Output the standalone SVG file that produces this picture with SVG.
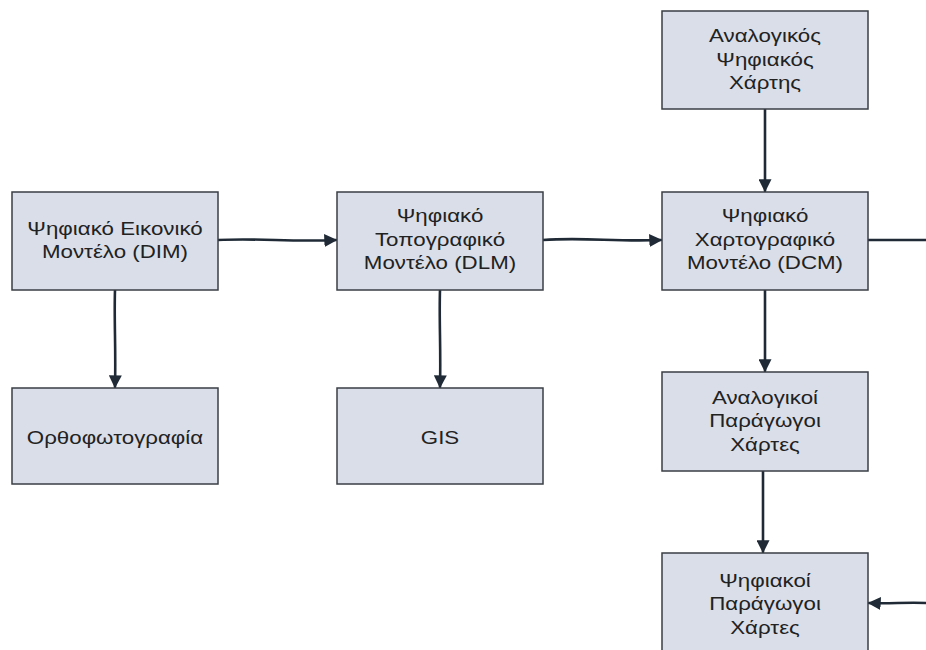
<svg xmlns="http://www.w3.org/2000/svg" width="926" height="650" viewBox="0 0 926 650">
  <style>
    .box rect { fill: #d9dee9; stroke: #3a3f46; stroke-width: 1.5; }
    .box text { font-family: "Liberation Sans", Arial, sans-serif; font-size: 18px; fill: #222; text-anchor: middle; }
    .edge { fill: none; stroke: #1f2a36; stroke-width: 2.6; stroke-linecap: round; }
  </style>
  <defs>
    <marker id="arrow" viewBox="0 0 10 10" refX="9" refY="5" markerWidth="5" markerHeight="5" orient="auto" markerUnits="strokeWidth">
      <path d="M0,0 L10,5 L0,10 z" fill="#1f2a36"/>
    </marker>
  </defs>
  <rect width="926" height="650" fill="#ffffff"/>

  <g id="connectors">
    <path class="edge" d="M218,240 C260,238 290,242 336,240" marker-end="url(#arrow)"/>
    <path class="edge" d="M543,240 C585,237 615,242 661,240" marker-end="url(#arrow)"/>
    <path class="edge" d="M868,240 L926,240"/>
    <path class="edge" d="M765,109 L765,191" marker-end="url(#arrow)"/>
    <path class="edge" d="M765,290 L765,371" marker-end="url(#arrow)"/>
    <path class="edge" d="M763,471 L763,552" marker-end="url(#arrow)"/>
    <path class="edge" d="M926,603 C905,602 890,604 869,603" marker-end="url(#arrow)"/>
    <path class="edge" d="M115,290 C114,320 116,350 115,387" marker-end="url(#arrow)"/>
    <path class="edge" d="M440,290 C439,320 441,350 440,387" marker-end="url(#arrow)"/>
  </g>

  <!-- labels are set in a horizontally widened face: scale(1.24,1) about each box centre -->
  <g id="dim" class="box">
    <rect x="12" y="192" width="206" height="98"/>
    <g transform="translate(115,0) scale(1.24,1)">
      <text x="0" y="235">Ψηφιακό Εικονικό</text>
      <text x="0" y="258.5">Μοντέλο (DIM)</text>
    </g>
  </g>
  <g id="dlm" class="box">
    <rect x="337" y="192" width="206" height="98"/>
    <g transform="translate(440,0) scale(1.24,1)">
      <text x="0" y="222.5">Ψηφιακό</text>
      <text x="0" y="246">Τοπογραφικό</text>
      <text x="0" y="269.5">Μοντέλο (DLM)</text>
    </g>
  </g>
  <g id="analog-digital-map" class="box">
    <rect x="662" y="11" width="206" height="98"/>
    <g transform="translate(765,0) scale(1.24,1)">
      <text x="0" y="42.5">Αναλογικός</text>
      <text x="0" y="66">Ψηφιακός</text>
      <text x="0" y="89.5">Χάρτης</text>
    </g>
  </g>
  <g id="dcm" class="box">
    <rect x="662" y="192" width="206" height="98"/>
    <g transform="translate(765,0) scale(1.24,1)">
      <text x="0" y="222.5">Ψηφιακό</text>
      <text x="0" y="246">Χαρτογραφικό</text>
      <text x="0" y="269.5">Μοντέλο (DCM)</text>
    </g>
  </g>
  <g id="orthophoto" class="box">
    <rect x="12" y="388" width="206" height="96"/>
    <g transform="translate(115,0) scale(1.24,1)">
      <text x="0" y="444">Ορθοφωτογραφία</text>
    </g>
  </g>
  <g id="gis" class="box">
    <rect x="337" y="388" width="206" height="96"/>
    <g transform="translate(440,0) scale(1.24,1)">
      <text x="0" y="444">GIS</text>
    </g>
  </g>
  <g id="analog-derived" class="box">
    <rect x="662" y="372" width="206" height="99"/>
    <g transform="translate(765,0) scale(1.24,1)">
      <text x="0" y="404">Αναλογικοί</text>
      <text x="0" y="427.5">Παράγωγοι</text>
      <text x="0" y="451">Χάρτες</text>
    </g>
  </g>
  <g id="digital-derived" class="box">
    <rect x="662" y="553" width="206" height="110"/>
    <g transform="translate(765,0) scale(1.24,1)">
      <text x="0" y="587">Ψηφιακοί</text>
      <text x="0" y="610.5">Παράγωγοι</text>
      <text x="0" y="634">Χάρτες</text>
    </g>
  </g>
</svg>
